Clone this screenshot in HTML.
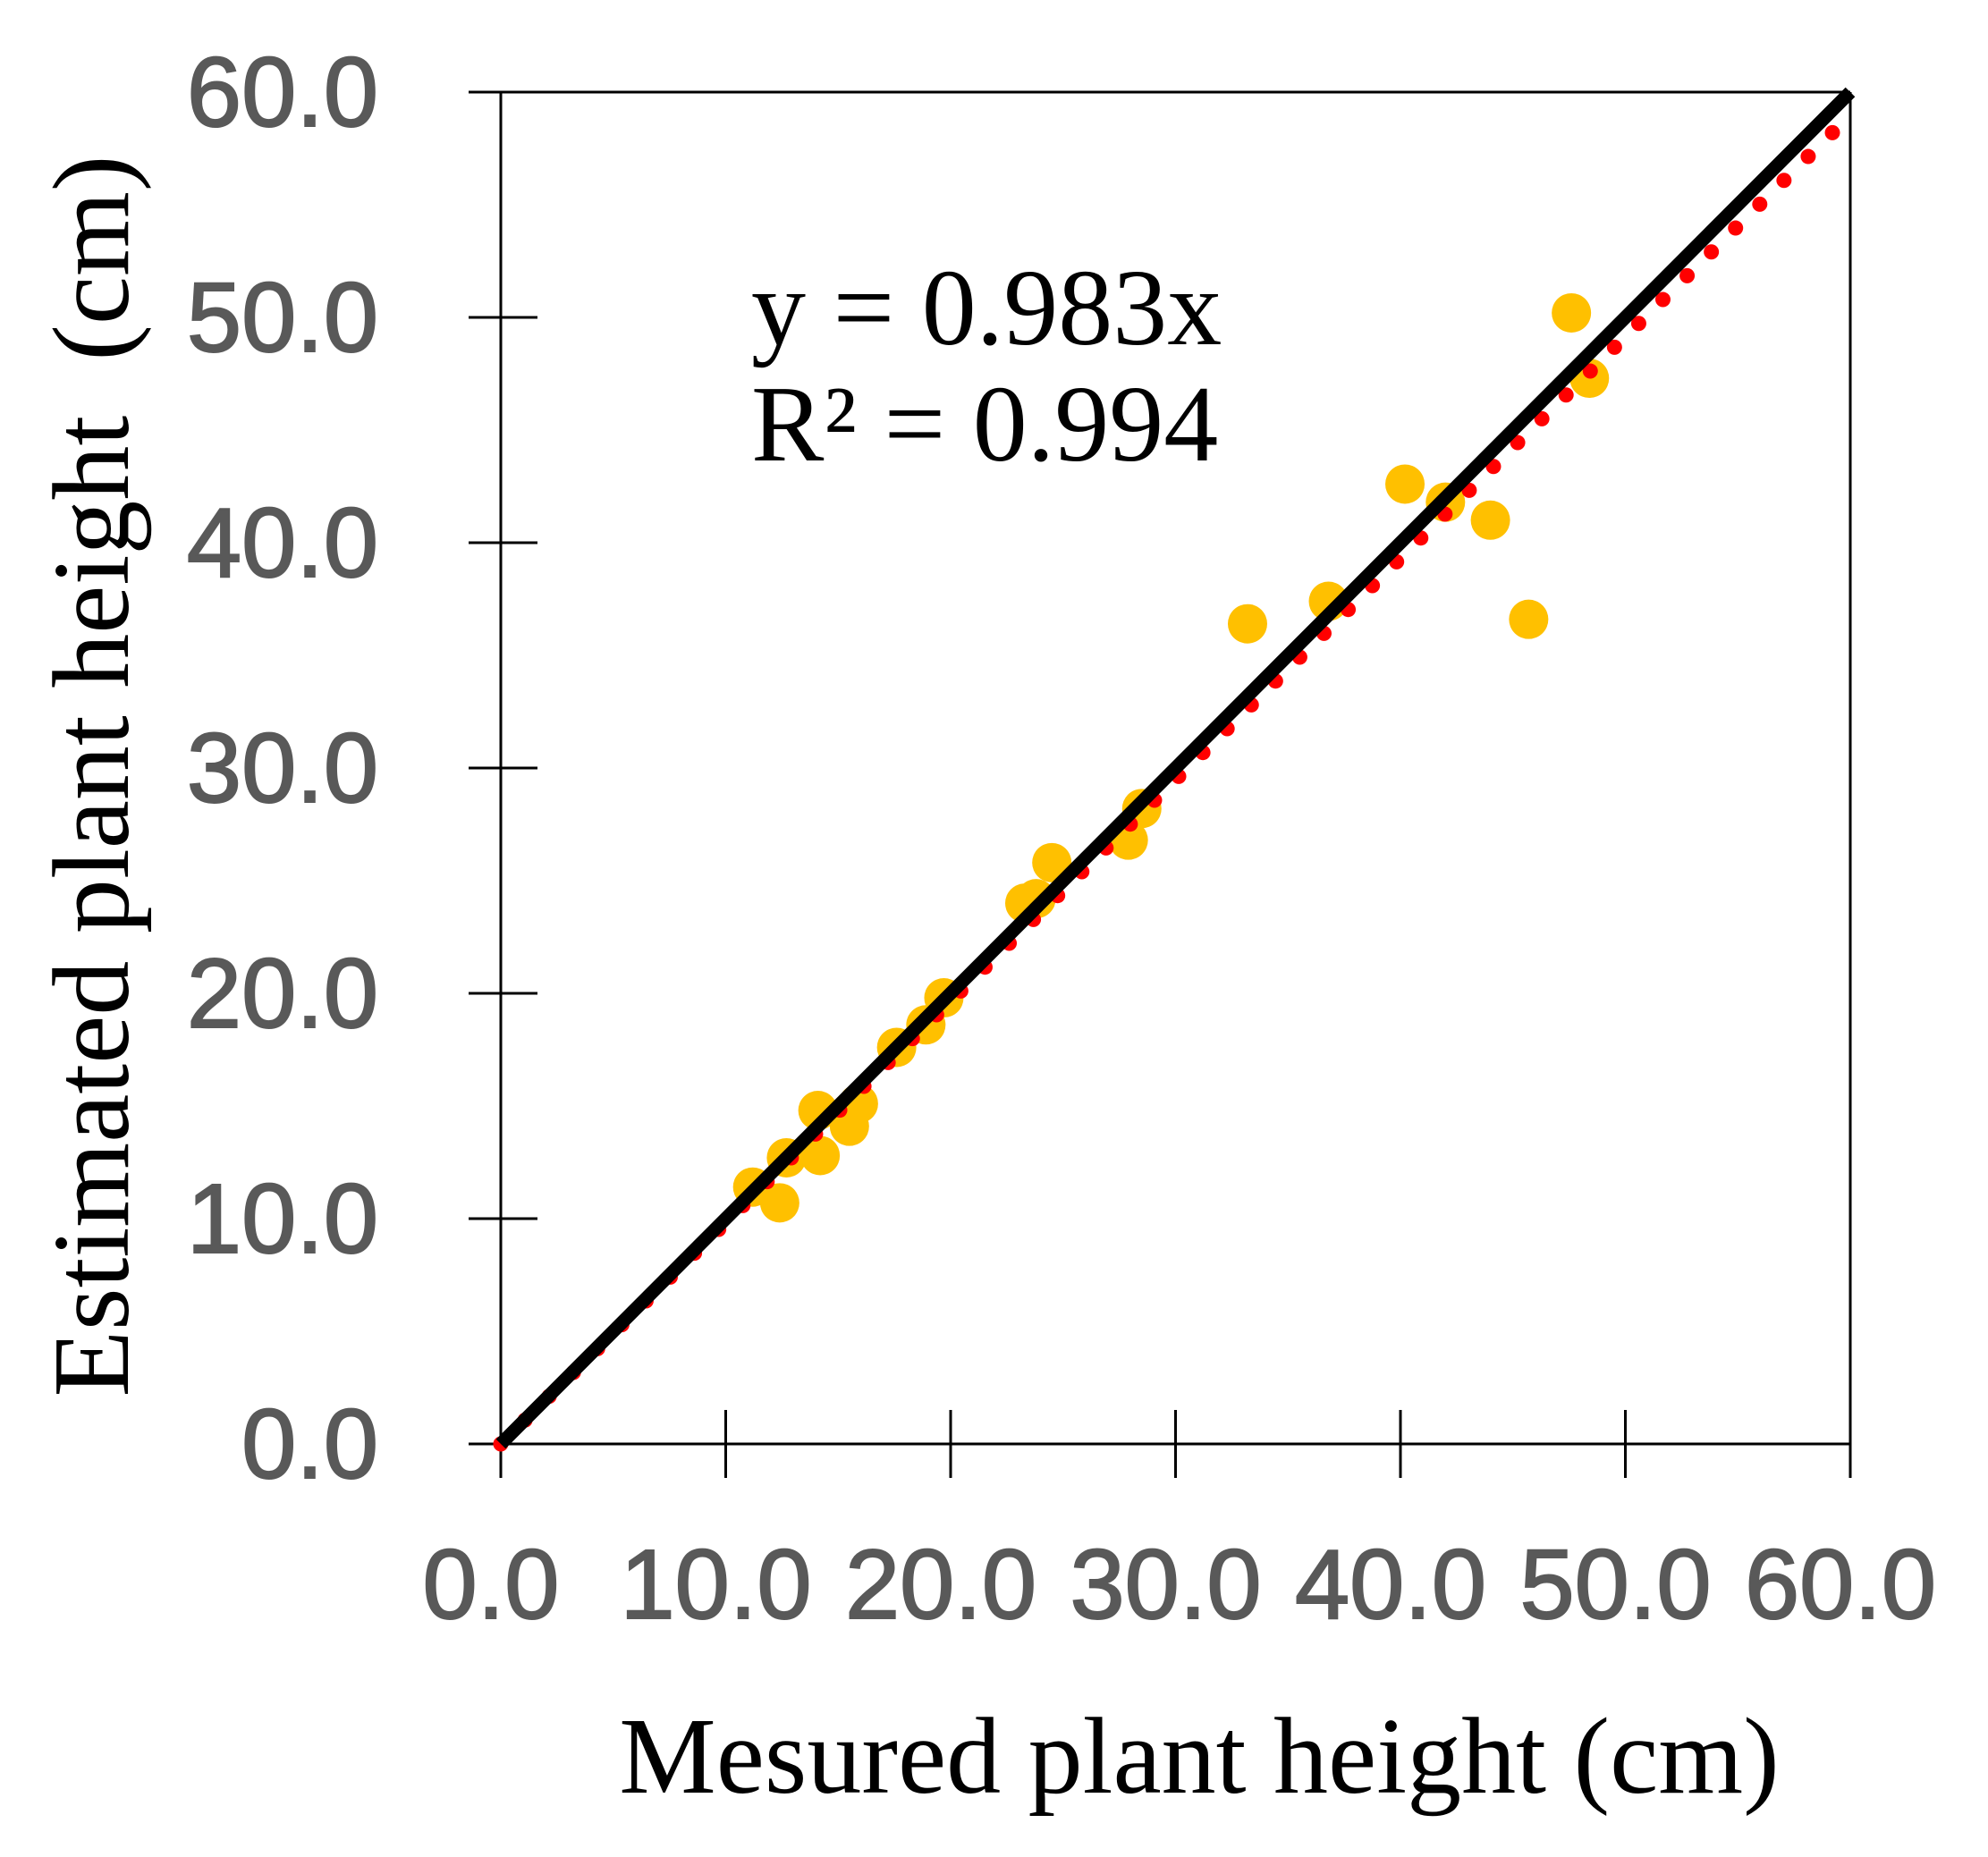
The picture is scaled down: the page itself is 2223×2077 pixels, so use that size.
<!DOCTYPE html>
<html><head><meta charset="utf-8"><style>
html,body{margin:0;padding:0;background:#fff;}
svg{display:block;}
</style></head><body>
<svg id="chart" width="2223" height="2077" viewBox="0 0 2223 2077" xmlns="http://www.w3.org/2000/svg">
<g id="axes"></g>
<g id="points"></g>
<g id="lines"></g>
<text x="840" y="385" font-family="'Liberation Serif', serif" font-size="122" fill="#000">y = 0.983x</text>
<text x="840" y="515" font-family="'Liberation Serif', serif" font-size="122" fill="#000">R² = 0.994</text>
<text x="1341" y="2005" text-anchor="middle" font-family="'Liberation Serif', serif" font-size="122" fill="#000">Mesured plant height (cm)</text>
<text transform="translate(143,868) rotate(-90)" text-anchor="middle" font-family="'Liberation Serif', serif" font-size="122" fill="#000">Estimated plant height&#160;&#160;(cm)</text>
</svg>
<script>
const xs = [11.2,12.4,12.7,14.1,14.2,15.5,15.9,17.6,18.9,19.7,23.3,23.8,24.5,27.9,28.5,33.2,36.8,40.2,42.0,44.0,45.7,47.6,48.4];
const ys = [11.4,10.7,12.7,14.8,12.8,14.1,15.1,17.6,18.6,19.8,24.0,24.2,25.8,26.8,28.2,36.4,37.4,42.6,41.8,41.0,36.6,50.2,47.3];
const xTicks = [0,10,20,30,40,50,60];
const yTicks = [0,10,20,30,40,50,60];
const xTickLabels = ["0.0","10.0","20.0","30.0","40.0","50.0","60.0"];
const yTickLabels = ["0.0","10.0","20.0","30.0","40.0","50.0","60.0"];
const slope = [0.983];

const NS = "http://www.w3.org/2000/svg";
const X0 = 560, X1 = 2069, Y0 = 1615, Y1 = 103;
function sx(v){ return X0 + (v/60)*(X1-X0); }
function sy(v){ return Y0 - (v/60)*(Y0-Y1); }
function mk(tag, attrs, parent){ const e = document.createElementNS(NS, tag); for (const k in attrs) e.setAttribute(k, attrs[k]); parent.appendChild(e); return e; }

const axes = document.getElementById('axes');
let l;
l = mk('line',{x1:524,y1:Y0,x2:X1,y2:Y0,stroke:'#000','stroke-width':3},axes);


l = mk('line',{x1:X0,y1:Y1,x2:X0,y2:1653,stroke:'#000','stroke-width':3},axes);


l = mk('line',{x1:524,y1:Y1,x2:X1,y2:Y1,stroke:'#000','stroke-width':3},axes);


l = mk('line',{x1:X1,y1:Y1,x2:X1,y2:1653,stroke:'#000','stroke-width':3},axes);



const labelStyle = {'font-family':"'Liberation Sans', sans-serif",'font-size':110,fill:'#595959',stroke:'#595959','stroke-width':2};
xTicks.forEach((v,i)=>{
  const t = mk('line',{x1:sx(v),y1:1577,x2:sx(v),y2:1653,stroke:'#000','stroke-width':3},axes);
  
  
  const tx = mk('text',Object.assign({x:sx(v)-11,y:1810,'text-anchor':'middle'},labelStyle),axes);
  tx.textContent = xTickLabels[i];
  
  
});
yTicks.forEach((v,i)=>{
  const t = mk('line',{x1:524,y1:sy(v),x2:601,y2:sy(v),stroke:'#000','stroke-width':3},axes);
  
  
  const tx = mk('text',Object.assign({x:423,y:sy(v)+38,'text-anchor':'end'},labelStyle),axes);
  tx.textContent = yTickLabels[i];
  
  
});

const pts = document.getElementById('points');
xs.forEach((x,i)=>{
  const c = mk('circle',{cx:sx(x),cy:sy(ys[i]),r:22,fill:'#FFC000'},pts);
  
  
});

const lines = document.getElementById('lines');
const trend = mk('line',{x1:sx(0),y1:sy(0),x2:sx(60),y2:sy(60*slope[0]),stroke:'#ff0000','stroke-width':17,'stroke-linecap':'round','stroke-dasharray':'0 38'},lines);


const ident = mk('line',{x1:sx(0),y1:sy(0),x2:sx(60),y2:sy(60),stroke:'#000','stroke-width':15},lines);


</script>
</body></html>
